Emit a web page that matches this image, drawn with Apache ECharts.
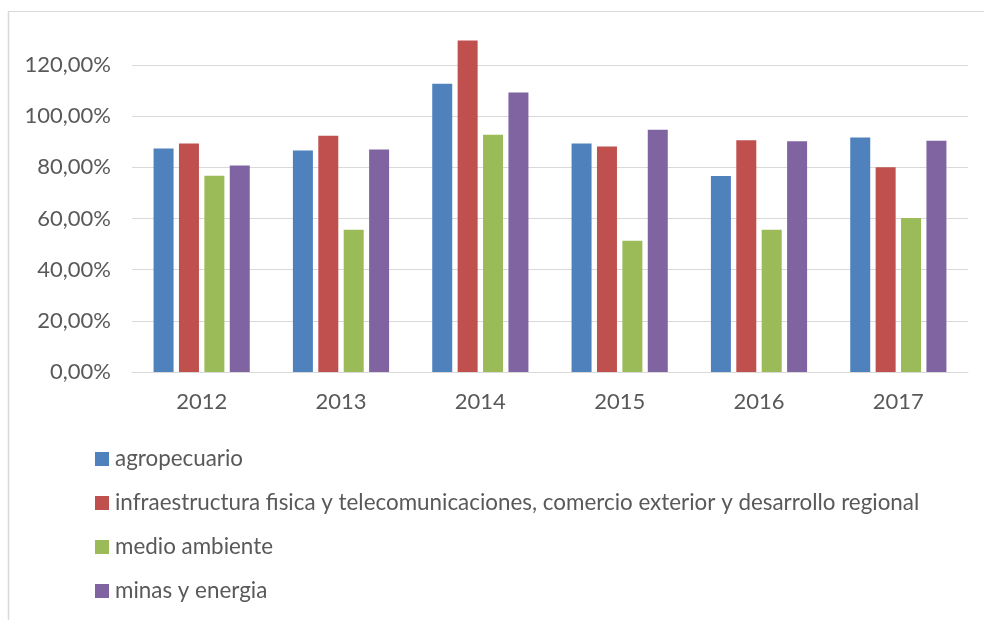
<!DOCTYPE html>
<html>
<head>
<meta charset="utf-8">
<script src="https://cdn.jsdelivr.net/npm/echarts@6/dist/echarts.min.js"></script>
<style>
  html, body { margin: 0; padding: 0; background: #fff; }
  #main { width: 984px; height: 620px; }
</style>
</head>
<body>
<div id="main"></div>
<script>
// años
const years = ['2012', '2013', '2014', '2015', '2016', '2017']
// nombres de las series
const seriesNames = [
  'agropecuario',
  'infraestructura fisica y telecomunicaciones, comercio exterior y desarrollo regional',
  'medio ambiente',
  'minas y energia'
]
// valores en %
const agropecuario = [87.4, 86.6, 112.7, 89.3, 76.6, 91.7]
const infraestructura = [89.3, 92.4, 129.6, 88.2, 90.6, 80.1]
const medioAmbiente = [76.7, 55.6, 92.8, 51.3, 55.6, 60.2]
const minasEnergia = [80.7, 87.0, 109.3, 94.7, 90.2, 90.4]

const colors = ['#4F81BD', '#C0504D', '#9BBB59', '#8064A2']
const txtColor = '#595959'
const fontFam = 'Lato, "Noto Sans", sans-serif'
const fs = 22

const chart = echarts.init(document.getElementById('main'))

const seriesData = [agropecuario, infraestructura, medioAmbiente, minasEnergia]

const option = {
  animation: false,
  color: colors,
  textStyle: { fontFamily: fontFam },
  grid: { left: 132, right: 16, top: 39.5, bottom: 248 },
  graphic: [
    { type: 'line', shape: { x1: 8, y1: 11.5, x2: 984, y2: 11.5 }, style: { stroke: '#d9d9d9', lineWidth: 1 } },
    { type: 'line', shape: { x1: 8.5, y1: 11, x2: 8.5, y2: 620 }, style: { stroke: '#d9d9d9', lineWidth: 1.5 } }
  ],
  legend: {
    orient: 'vertical',
    left: 95,
    top: 448,
    padding: 0,
    icon: 'rect',
    itemWidth: 14,
    itemHeight: 14,
    itemGap: 22,
    textStyle: { color: txtColor, fontSize: 22.4, fontFamily: fontFam, lineHeight: 22, padding: [0, 0, 0, 1] },
    data: seriesNames
  },
  xAxis: {
    type: 'category',
    data: years,
    axisLine: { lineStyle: { color: '#d9d9d9', width: 1 } },
    axisTick: { show: false },
    axisLabel: { color: txtColor, fontSize: fs, fontFamily: fontFam, margin: 19 }
  },
  yAxis: {
    type: 'value',
    min: 0,
    max: 130,
    interval: 20,
    axisLine: { show: false },
    axisTick: { show: false },
    splitLine: {
      lineStyle: {
        color: ['#d9d9d9', '#d9d9d9', '#d9d9d9', '#d9d9d9', '#d9d9d9', '#d9d9d9', '#d9d9d9', 'rgba(0,0,0,0)'],
        width: 1
      }
    },
    axisLabel: {
      color: txtColor,
      fontSize: fs,
      fontFamily: fontFam,
      margin: 21,
      showMaxLabel: false,
      formatter: v => v.toFixed(2).replace('.', ',') + '%'
    }
  },
  series: seriesData.map((d, i) => ({
    name: seriesNames[i],
    type: 'bar',
    data: d,
    barWidth: 20,
    barGap: '27%'
  }))
}

chart.setOption(option)
</script>
</body>
</html>
